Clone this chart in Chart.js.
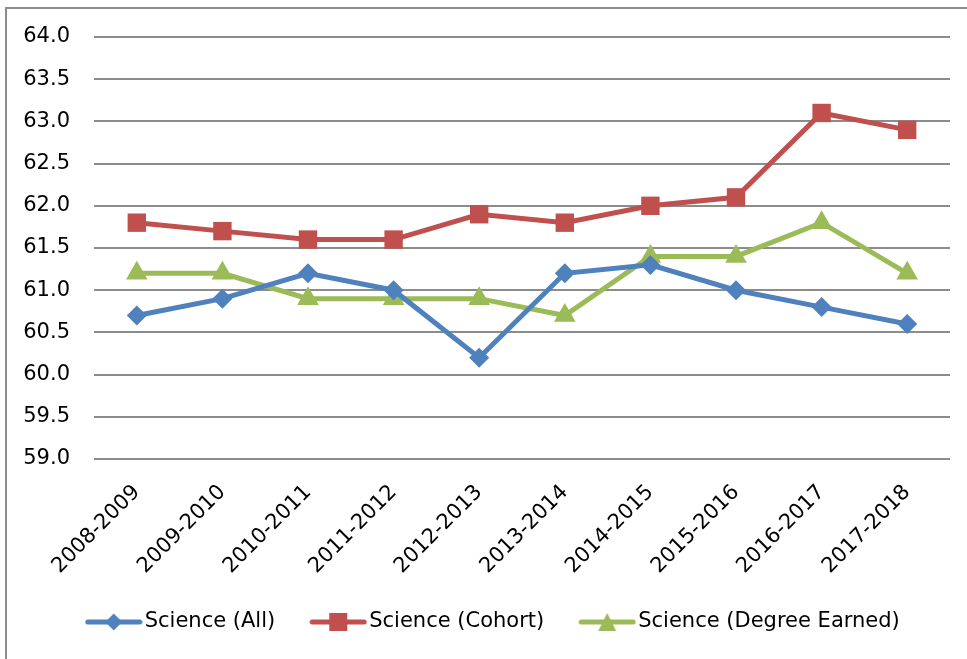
<!DOCTYPE html>
<html><head><meta charset="utf-8">
<script src="https://cdn.jsdelivr.net/npm/chart.js@4"></script>
<style>
html,body{margin:0;padding:0;background:#fff;}
#wrap{position:absolute;left:0;top:0;width:967px;height:659px;}
#frame{position:absolute;left:5px;top:7px;width:970px;height:660px;border:2px solid #8c8c8c;box-sizing:border-box;}
canvas{position:absolute;left:0;top:0;}
</style></head>
<body>
<div id="wrap"><div id="frame"></div><canvas id="c" width="967" height="659"></canvas></div>
<script>
const categories = ["2008-2009","2009-2010","2010-2011","2011-2012","2012-2013","2013-2014","2014-2015","2015-2016","2016-2017","2017-2018"];
const scienceAll = [60.7, 60.9, 61.2, 61.0, 60.2, 61.2, 61.3, 61.0, 60.8, 60.6];
const scienceCohort = [61.8, 61.7, 61.6, 61.6, 61.9, 61.8, 62.0, 62.1, 63.1, 62.9];
const scienceDegree = [61.2, 61.2, 60.9, 60.9, 60.9, 60.7, 61.4, 61.4, 61.8, 61.2];
const seriesNames = ["Science (All)", "Science (Cohort)", "Science (Degree Earned)"];

const FONT = "'DejaVu Sans', sans-serif";
const FS = 21;
const colors = ["#4F81BD", "#C0504D", "#9BBB59"];
const styles = ["rectRot", "rect", "triangle"];
const radii = [10, 13, 12.5];

function legendIcon(color, style){
  const cv = document.createElement('canvas');
  cv.width = 58; cv.height = 22;
  const g = cv.getContext('2d');
  g.strokeStyle = color; g.lineWidth = 5; g.lineCap = 'round';
  g.beginPath(); g.moveTo(3, 11); g.lineTo(55, 11); g.stroke();
  g.fillStyle = color;
  g.beginPath();
  if (style === 'rectRot') { g.moveTo(29, 2.5); g.lineTo(37.5, 11); g.lineTo(29, 19.5); g.lineTo(20.5, 11); }
  else if (style === 'rect') { g.rect(20, 2, 18, 18); }
  else { g.moveTo(29, 2); g.lineTo(38, 20); g.lineTo(20, 20); }
  g.closePath(); g.fill();
  return cv;
}
const icons = colors.map((c,i)=>legendIcon(c, styles[i]));

const data = {
  labels: categories,
  datasets: [scienceAll, scienceCohort, scienceDegree].map((d,i)=>({
    label: seriesNames[i], data: d,
    borderColor: colors[i], backgroundColor: colors[i],
    borderWidth: 5, pointStyle: styles[i], pointRadius: radii[i], pointHoverRadius: radii[i],
    pointBorderWidth: 0, tension: 0
  }))
};

const shiftLegend = {
  id: 'shiftLegend',
  afterLayout(chart) {
    const l = chart.legend;
    if (l) { l.left += 43; l.top -= 15; l.bottom -= 15; }
  }
};

new Chart(document.getElementById('c'), {
  type: 'line',
  data,
  plugins: [shiftLegend],
  options: {
    responsive: false, animation: false,
    layout: { padding: { top: 37, right: 17, left: 0, bottom: 1.5 } },
    plugins: {
      tooltip: { enabled: false },
      legend: {
        position: 'bottom',
        labels: {
          usePointStyle: true, pointStyleWidth: 41,
          font: { family: FONT, size: FS }, color: '#000', padding: 42.5,
          generateLabels: (chart) => {
            const items = Chart.defaults.plugins.legend.labels.generateLabels(chart);
            items.forEach((it, i) => { it.pointStyle = icons[i]; });
            return items;
          }
        }
      }
    },
    scales: {
      x: {
        offset: true,
        grid: { display: false, drawTicks: false },
        border: { display: false },
        ticks: { minRotation: 45, maxRotation: 45, color: '#000', font: { family: FONT, size: FS }, padding: 21 },
        afterFit: (s) => { s.height = 125; }
      },
      y: {
        min: 59, max: 64,
        grid: { color: '#8c8c8c', lineWidth: 2, drawTicks: false },
        border: { display: false },
        ticks: { stepSize: 0.5, color: '#000', font: { family: FONT, size: FS }, padding: 24,
          callback: (v) => Number(v).toFixed(1) },
        afterFit: (s) => { s.width = 94; }
      }
    }
  }
});
</script>
</body></html>
